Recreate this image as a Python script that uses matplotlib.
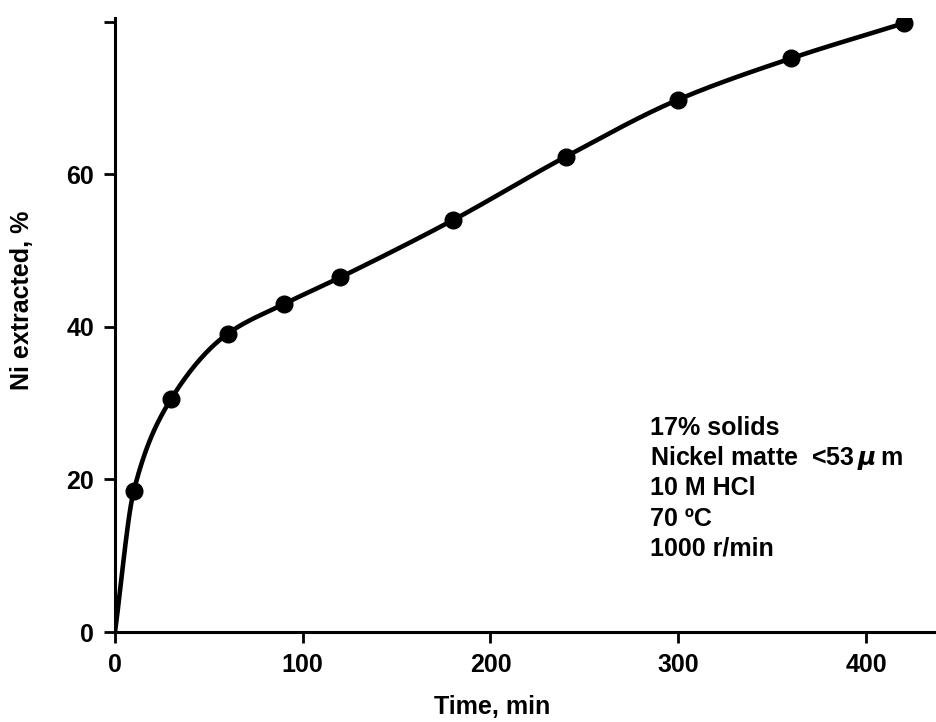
import numpy as np
import matplotlib.pyplot as plt

plt.rcParams['font.family'] = ['Liberation Sans', 'DejaVu Sans']
plt.rcParams['font.weight'] = 'bold'

# leaching time (min) and nickel extracted (%)
time_min = [0, 10, 30, 60, 90, 120, 180, 240, 300, 360, 420]
ni_extracted = [0, 18.5, 30.6, 39.1, 43.0, 46.5, 54.0, 62.3, 69.8, 75.2, 79.8]

x_ticks = [0, 100, 200, 300, 400]
y_ticks = [0, 20, 40, 60, 80]
y_tick_labels = ['0', '20', '40', '60', '']

conditions = ['17% solids', 'Nickel matte  <53$\\,\\mu\\,$m', '10 M HCl', '70 \u00baC', '1000 r/min']


def pchip(x, y, xs):
    # monotone cubic hermite through the measured points
    x = np.asarray(x, float)
    y = np.asarray(y, float)
    h = np.diff(x)
    d = np.diff(y) / h
    m = np.zeros_like(y)
    for k in range(1, len(x) - 1):
        if d[k - 1] * d[k] > 0:
            w1 = 2 * h[k] + h[k - 1]
            w2 = h[k] + 2 * h[k - 1]
            m[k] = (w1 + w2) / (w1 / d[k - 1] + w2 / d[k])
    m[0] = d[0]
    m[-1] = d[-1]
    idx = np.clip(np.searchsorted(x, xs) - 1, 0, len(x) - 2)
    t = (xs - x[idx]) / h[idx]
    h00 = 2 * t**3 - 3 * t**2 + 1
    h10 = t**3 - 2 * t**2 + t
    h01 = -2 * t**3 + 3 * t**2
    h11 = t**3 - t**2
    return h00 * y[idx] + h10 * h[idx] * m[idx] + h01 * y[idx + 1] + h11 * h[idx] * m[idx + 1]


fig = plt.figure(figsize=(9.36, 7.22), dpi=100)
ax = fig.add_axes([115 / 936, 90 / 722, 821 / 936, 614 / 722])

xs = np.linspace(time_min[0], time_min[-1], 600)
ax.plot(xs, pchip(time_min, ni_extracted, xs), color='black', lw=3.3, solid_capstyle='round')
ax.plot(time_min[1:], ni_extracted[1:], 'o', color='black', ms=12)

ax.set_xlim(0, 437.3)
ax.set_ylim(0, 80.5)
ax.spines['top'].set_visible(False)
ax.spines['right'].set_visible(False)
for s in ['left', 'bottom']:
    ax.spines[s].set_linewidth(2.2)

ax.set_xticks(x_ticks)
ax.set_yticks(y_ticks)
ax.set_yticklabels(y_tick_labels)
ax.tick_params(axis='both', direction='out', length=8, width=2, labelsize=18, pad=7)

fig.text(492 / 936, 1 - 707 / 722, 'Time, min', ha='center', va='center', fontsize=18, fontweight='bold')
fig.text(22 / 936, 1 - 300 / 722, 'Ni extracted, %', ha='center', va='center', rotation=90,
         fontsize=18, fontweight='bold')

for i, line in enumerate(conditions):
    ax.text(285, 25.8 - i * 3.95, line, fontsize=18, fontweight='bold', va='baseline', ha='left')

fig.savefig('out.png', dpi=100)
